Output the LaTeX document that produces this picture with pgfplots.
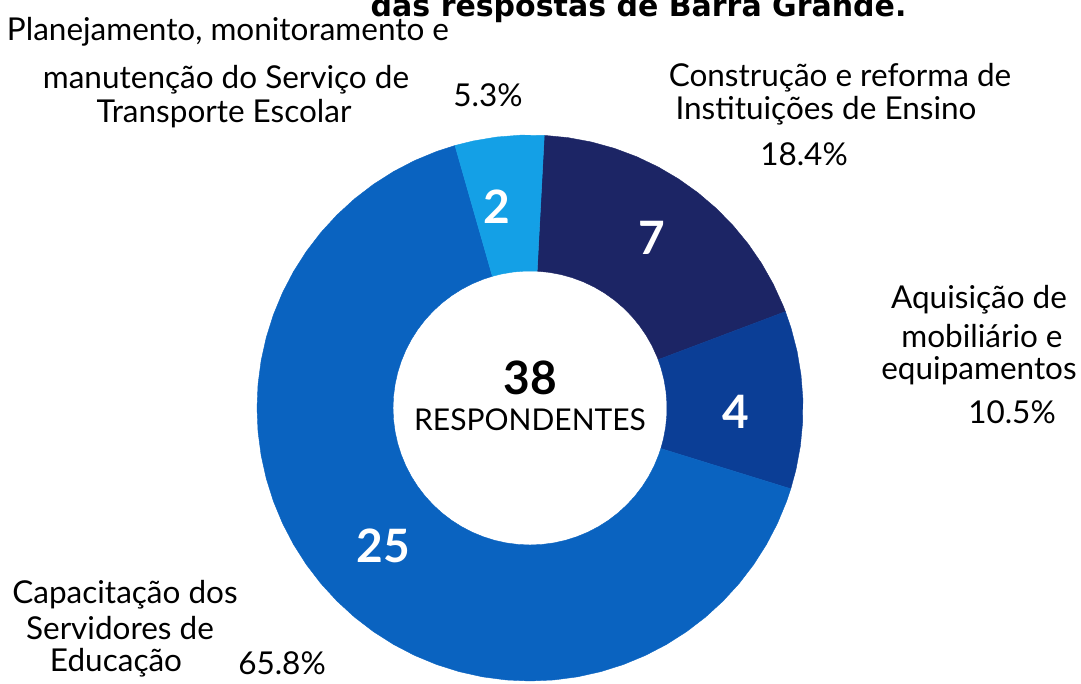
\documentclass[border=0pt]{standalone}
\usepackage{pgfplots}
\pgfplotsset{compat=1.18}
\usepackage{fontspec}
\setmainfont{Lato}
\newfontfamily\titlefont{DejaVu Sans}
\definecolor{cNavy}{HTML}{1C2565}
\definecolor{cDark}{HTML}{0B3E96}
\definecolor{cMed}{HTML}{0A63C0}
\definecolor{cLight}{HTML}{14A0E6}
\newcommand{\lbl}{\fontsize{31.5}{33}\selectfont}
\newcommand{\num}{\fontsize{46}{48}\selectfont\bfseries}
\begin{document}
\begin{tikzpicture}
\begin{axis}[x=1pt,y=1pt,xmin=-530,xmax=551,ymin=-275,ymax=408,hide axis,clip=false]
% 7 respondents (18.4%)
\addplot[fill=cNavy,draw=cNavy,line width=0.4pt,data cs=polar] coordinates {
(87,273) (82,273) (77,273) (72,273) (67,273) (62,273) (57,273) (52,273) (47,273) (42,273) (37,273) (32,273) (27,273) (22,273) (20.68,273)
(20.68,137) (22,137) (27,137) (32,137) (37,137) (42,137) (47,137) (52,137) (57,137) (62,137) (67,137) (72,137) (77,137) (82,137) (87,137) (87,273)};
% 4 respondents (10.5%)
\addplot[fill=cDark,draw=cDark,line width=0.4pt,data cs=polar] coordinates {
(20.68,273) (17,273) (12,273) (7,273) (2,273) (-3,273) (-8,273) (-13,273) (-17.21,273)
(-17.21,137) (-13,137) (-8,137) (-3,137) (2,137) (7,137) (12,137) (17,137) (20.68,137) (20.68,273)};
% 25 respondents (65.8%)
\addplot[fill=cMed,draw=cMed,line width=0.4pt,data cs=polar] coordinates {
(-17.21,273) (-20,273) (-25,273) (-30,273) (-35,273) (-40,273) (-45,273) (-50,273) (-55,273) (-60,273) (-65,273) (-70,273) (-75,273) (-80,273) (-85,273) (-90,273) (-95,273) (-100,273) (-105,273) (-110,273) (-115,273) (-120,273) (-125,273) (-130,273) (-135,273) (-140,273) (-145,273) (-150,273) (-155,273) (-160,273) (-165,273) (-170,273) (-175,273) (-180,273) (-185,273) (-190,273) (-195,273) (-200,273) (-205,273) (-210,273) (-215,273) (-220,273) (-225,273) (-230,273) (-235,273) (-240,273) (-245,273) (-250,273) (-254.05,273)
(-254.05,137) (-250,137) (-245,137) (-240,137) (-235,137) (-230,137) (-225,137) (-220,137) (-215,137) (-210,137) (-205,137) (-200,137) (-195,137) (-190,137) (-185,137) (-180,137) (-175,137) (-170,137) (-165,137) (-160,137) (-155,137) (-150,137) (-145,137) (-140,137) (-135,137) (-130,137) (-125,137) (-120,137) (-115,137) (-110,137) (-105,137) (-100,137) (-95,137) (-90,137) (-85,137) (-80,137) (-75,137) (-70,137) (-65,137) (-60,137) (-55,137) (-50,137) (-45,137) (-40,137) (-35,137) (-30,137) (-25,137) (-20,137) (-17.21,137) (-17.21,273)};
% 2 respondents (5.3%)
\addplot[fill=cLight,draw=cLight,line width=0.4pt,data cs=polar] coordinates {
(-254.05,273) (-258,273) (-263,273) (-268,273) (-273,273)
(-273,137) (-268,137) (-263,137) (-258,137) (-254.05,137) (-254.05,273)};
\coordinate (bl) at (axis cs:-530,-275);
\coordinate (tr) at (axis cs:551,408);
% numbers in the segments
\node[white] at (axis cs:-33,201) {\num 2};
\node[white] at (axis cs:122,170) {\num 7};
\node[white] at (axis cs:206,-4) {\num 4};
\node[white] at (axis cs:-147,-138) {\num 25};
\node at (axis cs:0,30) {\num 38};
\node at (axis cs:0,-12) {\fontsize{30}{32}\selectfont RESPONDENTES};
% labels
\node at (axis cs:-302,376) {\lbl Planejamento, monitoramento e};
\node at (axis cs:-304,328) {\lbl manutenção do Serviço de};
\node at (axis cs:-306,294) {\lbl Transporte Escolar};
\node at (axis cs:-42,313) {\lbl 5.3\%};
\node at (axis cs:310,330) {\lbl Construção e reforma de};
\node at (axis cs:296,297) {\lbl Instituições de Ensino};
\node at (axis cs:274,254) {\lbl 18.4\%};
\node at (axis cs:449,108) {\lbl Aquisição de};
\node at (axis cs:452,72) {\lbl mobiliário e};
\node at (axis cs:449,37) {\lbl equipamentos};
\node at (axis cs:482,-4) {\lbl 10.5\%};
\node at (axis cs:-405,-187) {\lbl Capacitação dos};
\node at (axis cs:-410,-220) {\lbl Servidores de};
\node at (axis cs:-414,-255) {\lbl Educação};
\node at (axis cs:-248,-255) {\lbl 65.8\%};
\node[anchor=base east] at (axis cs:380,391) {\titlefont\bfseries\fontsize{30}{32}\selectfont das respostas de Barra Grande.};
\end{axis}
\pgfresetboundingbox
\path[use as bounding box] (bl) rectangle (tr);
\end{tikzpicture}
\end{document}
